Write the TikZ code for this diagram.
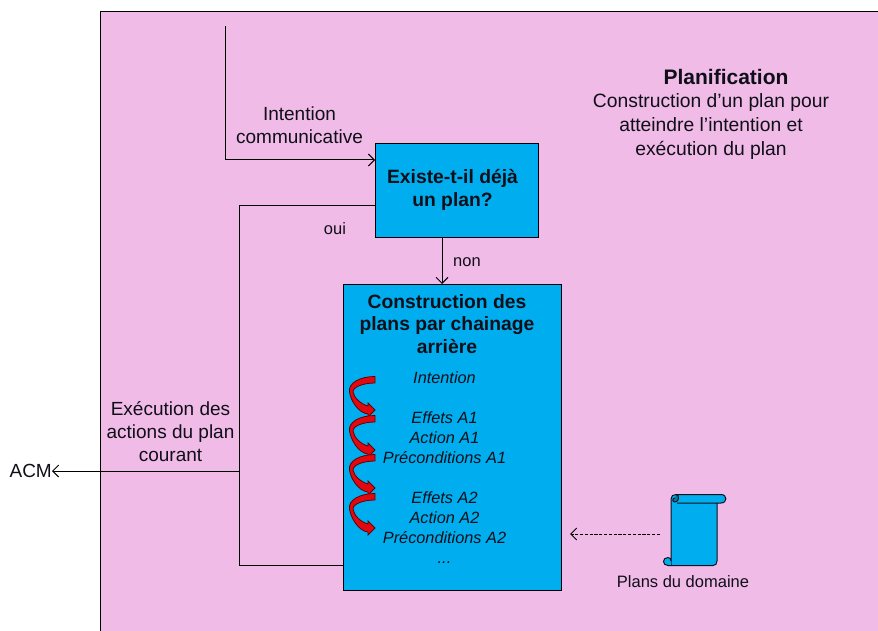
\documentclass[tikz,border=0pt]{standalone}
\usepackage{fontspec}
\setmainfont{Liberation Sans}
\usetikzlibrary{arrows.meta}
\definecolor{pinkbg}{RGB}{241,187,231}
\definecolor{boxblue}{RGB}{0,174,239}
\definecolor{ink}{RGB}{15,15,25}
\definecolor{ribbon}{RGB}{226,8,16}
\newcommand{\fs}[2]{\fontsize{#1}{#2}\selectfont}
\tikzset{
  x=1pt,y=-1pt,
  panel/.style={draw=black,line width=0.8pt,fill=pinkbg},
  bluebox/.style={draw=black,line width=1pt,fill=boxblue},
  conn/.style={draw=black,line width=1pt},
  barb/.tip={Straight Barb[length=6pt,width=12pt,line width=1pt]},
  arr/.style={conn,-barb},
  lbl/.style={text=ink,align=center,inner sep=0pt},
  ltext/.style={lbl,font=\fs{19}{23}},
  title/.style={lbl,font=\fs{19.3}{22.5}\bfseries},
  hypo/.style={lbl,font=\fs{16.3}{20}\itshape},
  small/.style={lbl,font=\fs{16.5}{20}},
  curl/.style={draw=ribbon!40!black,line width=0.8pt,fill=ribbon},
  scrollp/.style={draw=ink,line width=1pt,fill=boxblue,line join=round},
}
\begin{document}
\begin{tikzpicture}
\useasboundingbox (0,0) rectangle (878,631);
\fill[white] (0,0) rectangle (878,631);
\draw[panel] (100.5,11) rectangle (885,640);

% boxes
\node[bluebox,minimum width=163pt,minimum height=94pt,inner sep=0pt,anchor=north west] (q) at (375,143) {};
\node[bluebox,minimum width=218pt,minimum height=306pt,inner sep=0pt,anchor=north west] (c) at (343,284) {};

\coordinate (start) at (225,26);
\coordinate (qin) at (375,160);
\coordinate (qout) at (375,206);
\coordinate (corner1) at (239,206);
\coordinate (corner2) at (239,565);
\coordinate (cin) at (343,565);
\coordinate (junction) at (239,471);
\coordinate (nonA) at (442,237);
\coordinate (nonB) at (442,284);
\node[lbl,font=\fs{19}{23},anchor=east] (acm) at (52,471) {ACM};

\draw[arr] (start) |- (qin);
\draw[conn] (qout) -- (corner1) -- (corner2) -- (cin);
\draw[arr] (junction) -- (acm.east);
\draw[arr] (nonA) -- (nonB);

% texts
\node[ltext] (t1) at (299.5,125.5) {Intention\\communicative};
\node[title] (t2) at (452.5,190) {Existe-t-il déjà\\un plan?};
\node[small] (oui) at (335,229) {oui};
\node[small] (non) at (467,262.5) {non};
\node[lbl,font=\fs{21}{25}\bfseries] (t3) at (726,76.5) {Planification};
\node[lbl,font=\fs{19.3}{24}] (t4) at (711,126.5) {Construction d’un plan pour\\atteindre l’intention et\\exécution du plan};
\node[title] (t5) at (447,324) {Construction des\\plans par chainage\\arrière};
\node[ltext] (t6) at (170.5,431.5) {Exécution des\\actions du plan\\courant};

\node[hypo] (h1) at (444.5,378) {Intention};
\node[hypo] (h2) at (444.5,418) {Effets A1};
\node[hypo] (h3) at (444.5,438) {Action A1};
\node[hypo] (h4) at (444.5,458) {Préconditions A1};
\node[hypo] (h5) at (444.5,498) {Effets A2};
\node[hypo] (h6) at (444.5,518) {Action A2};
\node[hypo] (h7) at (444.5,538) {Préconditions A2};
\node[hypo] (h8) at (444.5,563) {...};

% red curved arrows
\foreach \px/\py/\h in {375/380/30,375/419/31,375/458/30,375/497/31}{
  \begin{scope}[shift={(\px,\py)}]
    \draw[curl] (0,-3.5) .. controls (-15,-3.5) and (-27,3) .. (-25.5,12)
      .. controls (-24.5,20) and (-17,\h+3) .. (-7,\h+4)
      -- (-7,\h+7) -- (0,\h) -- (-7,\h-7) -- (-7,\h-4)
      .. controls (-14,\h-6) and (-21,\h-12) .. (-22,12)
      .. controls (-22,7) and (-12,3) .. (0,3) -- cycle;
  \end{scope}
}

% scroll
\draw[scrollp] (671,499) .. controls (671,496) and (673,494.5) .. (676,494.5)
  -- (721,494.5) .. controls (727.5,494.5) and (727.5,503) .. (721,503)
  -- (717,503) -- (717,561) .. controls (717,564) and (715.5,565.5) .. (713,565.5)
  -- (671,565.5) -- cycle;
\draw[scrollp] (671,565.5) -- (668,565.5) .. controls (662,565.5) and (662,557.5) .. (668,557.5)
  .. controls (670,557.5) and (671,559) .. (671,561);
\draw[scrollp,fill=boxblue!70!black] (676,494.5) .. controls (680,495) and (679,502) .. (675,502)
  .. controls (672,502) and (672,498) .. (675,498) (677,503) -- (717,503);
\coordinate (scrolltip) at (660,534);
\coordinate (scrollend) at (570,534);
\draw[conn,dash pattern=on 3.2pt off 1.6pt,-barb] (scrolltip) -- (scrollend);
\node[small] (pd) at (683,581.5) {Plans du domaine};
\end{tikzpicture}
\end{document}
